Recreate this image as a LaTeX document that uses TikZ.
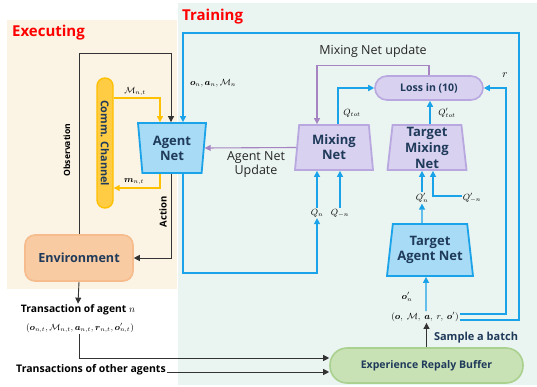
\documentclass[tikz,border=0pt]{standalone}
\usepackage{amsmath,amssymb}
\usepackage{fontspec}
\setmainfont{Open Sans}
\usetikzlibrary{arrows.meta,shapes.geometric,calc}
\definecolor{cblue}{HTML}{1AA3E8}
\definecolor{afill}{HTML}{A8DCF6}
\definecolor{pline}{HTML}{A684C2}
\definecolor{pfill}{HTML}{D9D1F0}
\definecolor{pborder}{HTML}{B9A8E0}
\definecolor{yline}{HTML}{FFC000}
\definecolor{yfill}{HTML}{FFCC44}
\definecolor{efill}{HTML}{F8CBA2}
\definecolor{eborder}{HTML}{F6BC8E}
\definecolor{gfill}{HTML}{C8E1B5}
\definecolor{gborder}{HTML}{AAD18F}
\definecolor{txtc}{HTML}{1F3A5A}
\definecolor{bgE}{HTML}{FBF3E3}
\definecolor{bgT}{HTML}{EAF4F1}
\definecolor{gline}{HTML}{333333}
\tikzset{
  tip/.style={-{Triangle[length=6pt,width=6pt]}},
  bluear/.style={draw=cblue, line width=1.4pt, tip},
  blkar/.style={draw=gline, line width=0.9pt, tip},
  yelar/.style={draw=yline, line width=1.1pt, tip},
  purar/.style={draw=pline, line width=1.1pt, tip},
  netbox/.style={trapezium, trapezium stretches body, inner sep=0pt, align=center,
     text=txtc, font=\fontsize{13}{15}\selectfont\bfseries, line width=1.8pt},
  bluenet/.style={netbox, draw=cblue, fill=afill},
  purnet/.style={netbox, draw=pborder, fill=pfill},
  lab/.style={font=\fontsize{12.5}{14}\selectfont, text=black!85, inner sep=1pt},
  mlab/.style={font=\fontsize{9}{10}\selectfont, inner sep=1pt},
  blab/.style={font=\fontsize{10.3}{12}\selectfont\bfseries, inner sep=1pt},
  ttl/.style={font=\fontsize{15}{17}\selectfont\bfseries, text=red, anchor=west, inner sep=0pt},
}
\begin{document}
\begin{tikzpicture}[x=1pt,y=-1pt]
\useasboundingbox[fill=white] (0,0) rectangle (537,387);
% backgrounds
\fill[bgT] (178,3) rectangle (537,385);
\fill[bgE] (7,20) rectangle (177,289);
\node[ttl] (tExec) at (12,33) {Executing};
\node[ttl] (tTrain) at (182,17) {Training};

% nodes
\node[draw=yline, fill=yfill, line width=1.4pt, rounded corners=8pt, minimum width=16pt, minimum height=130pt, inner sep=0pt] (comm) at (105,143) {};
\node[rotate=-90, text=txtc, font=\fontsize{10.8}{12}\selectfont\bfseries] (commt) at (comm.center) {Comm. Channel};
\node[draw=eborder, fill=efill, line width=1.6pt, rounded corners=10pt, minimum width=108pt, minimum height=46pt, text=txtc, font=\fontsize{12.6}{14}\selectfont\bfseries] (env) at (79,258) {Environment};
\node[bluenet, trapezium left angle=100.2, trapezium right angle=100.2, minimum width=68pt, minimum height=50pt] (agent) at (172,148) {Agent\\Net};
\node[purnet, trapezium left angle=80.5, trapezium right angle=80.5, minimum width=78pt, minimum height=45pt] (mix) at (334,147.5) {Mixing\\Net};
\node[purnet, trapezium left angle=83, trapezium right angle=83, minimum width=79pt, minimum height=45pt, font=\fontsize{13}{16}\selectfont\bfseries] (tmix) at (427,147.5) {Target\\Mixing\\Net};
\node[bluenet, trapezium left angle=78, trapezium right angle=78, minimum width=86pt, minimum height=52pt] (tagent) at (430,250) {Target\\Agent Net};
\node[draw=pborder, fill=pfill, line width=1.6pt, rounded corners=12pt, minimum width=108pt, minimum height=24pt, text=txtc, font=\fontsize{10.5}{12}\selectfont\bfseries] (loss) at (429,88) {Loss in (10)};
\node[draw=gborder, fill=gfill, line width=1.6pt, rounded corners=17pt, minimum width=193pt, minimum height=35pt, text=txtc, font=\fontsize{10.5}{12}\selectfont\bfseries] (buf) at (426.5,365.5) {Experience Repaly Buffer};

% labels
\node[lab] (mnu) at (373,51) {Mixing Net update};
\node[lab, align=center, font=\fontsize{12.5}{12}\selectfont] (anu) at (256,164.5) {Agent Net\\Update};
\node[mlab] (onan) at (213,83) {$\boldsymbol{o}_n,\boldsymbol{a}_n,\mathcal{M}_n$};
\node[mlab, font=\fontsize{11}{12}\selectfont] (rl) at (505,75) {$r$};
\node[mlab] (qtot) at (352,113) {$Q_{tot}$};
\node[mlab] (qptot) at (447,113) {$Q'_{tot}$};
\node[mlab] (qn) at (317,213) {$Q_n$};
\node[mlab] (qmn) at (340,213) {$Q_{-n}$};
\node[mlab] (qpn) at (422,198) {$Q'_n$};
\node[mlab] (qpmn) at (472,198) {$Q'_{-n}$};
\node[mlab] (opn) at (407,297) {$\boldsymbol{o}'_n$};
\node[mlab] (tup) at (425,317) {$(\boldsymbol{o},\ \mathcal{M},\ \boldsymbol{a},\ r,\ \boldsymbol{o}')$};
\node[blab, text=txtc, font=\fontsize{11}{12}\selectfont\bfseries] (sab) at (476,338) {Sample a batch};
\node[mlab] (mnt) at (135,92) {$\mathcal{M}_{n,t}$};
\node[mlab] (smnt) at (134,182) {$\boldsymbol{m}_{n,t}$};
\node[blab, rotate=90, font=\fontsize{8.6}{10}\selectfont\bfseries] (obs) at (67,150) {Observation};
\node[blab, rotate=90, font=\fontsize{9.5}{10}\selectfont\bfseries] (act) at (163,212) {Action};
\node[blab] (trn) at (78,310) {Transaction of agent $n$};
\node[mlab] (tup0) at (80,328) {$(\boldsymbol{o}_{n,t},\mathcal{M}_{n,t},\boldsymbol{a}_{n,t},\boldsymbol{r}_{n,t},\boldsymbol{o}'_{n,t})$};
\node[blab, font=\fontsize{10.5}{12}\selectfont\bfseries] (oth) at (91,370) {Transactions of other agents};

% coordinates
\coordinate (obsTop) at (79,53);
\coordinate (bTR) at (519,33);
\coordinate (rX) at (506,0);
\coordinate (bufL1) at ([yshift=7.5pt]buf.west);
\coordinate (bufL2) at ([yshift=-6.5pt]buf.west);

% black connectors
\draw[blkar] (env.north) -- (obsTop) -| ([xshift=-1pt]agent.north);
\draw[blkar] ([xshift=-1pt]agent.south) |- (env.east);
\draw[blkar] (env.south) -- (trn.north);
\draw[blkar] ([xshift=-1pt]tup0.south) |- (bufL1);
\draw[blkar] (oth.east |- bufL2) -- (bufL2);
\draw[blkar] (buf.north) -- (buf.north |- tup.south);

% yellow
\draw[yelar] ([yshift=45pt]comm.east) -| ([xshift=-12pt]agent.north);
\draw[yelar] ([xshift=-12pt]agent.south) |- ([yshift=-45pt]comm.east);

% blue
\draw[bluear] ([yshift=-3pt]tup.east) -| (bTR) -| ([xshift=11pt]agent.north);
\draw[bluear] ([yshift=3pt]tup.east) -| (rX |- loss.east) -- (loss.east);
\draw[bluear] ([xshift=11pt]agent.south) -- ++(0,99) -| (qn.south);
\draw[bluear] (qn.north) -- (qn.north |- mix.south);
\draw[bluear] (qmn.north) -- (qmn.north |- mix.south);
\draw[bluear] ([xshift=4pt]mix.north) |- (loss.west);
\draw[bluear] ([xshift=3pt]tmix.north) -- ([xshift=3pt]tmix.north |- loss.south);
\draw[bluear] ([xshift=-8pt]tagent.north) -- (qpn.south);
\draw[bluear] (qpn.north) -- (qpn.north |- tmix.south);
\draw[bluear] ([yshift=2pt]qpmn.west) -| ([xshift=6pt]tmix.south);
\draw[bluear] ([xshift=1pt]tup.north) -- ([xshift=-4pt]tagent.south);

% purple
\draw[purar] (loss.north) -- ++(0,-10) -| ([xshift=-17pt]mix.north);
\draw[purar] (mix.west) -- (agent.east);
\end{tikzpicture}
\end{document}
